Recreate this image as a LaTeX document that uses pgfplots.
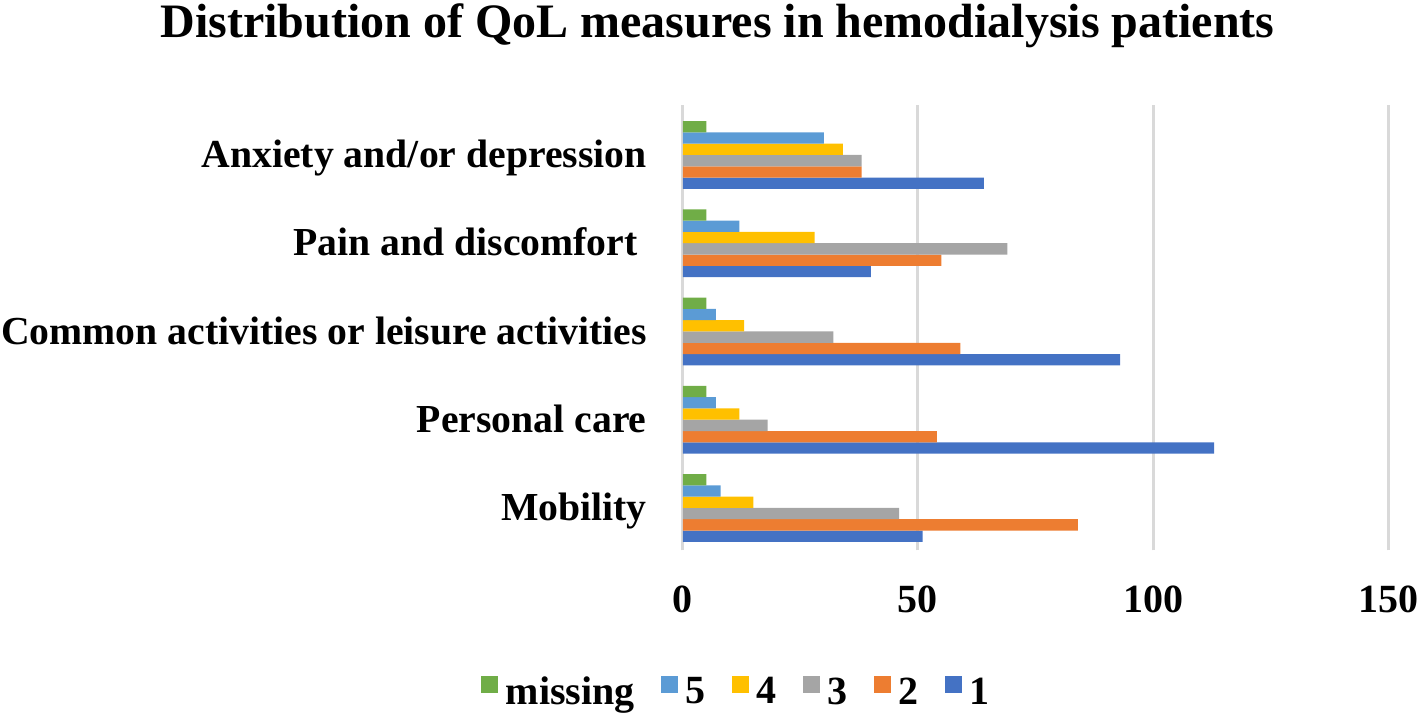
\documentclass[border=0pt]{standalone}
\usepackage{fontspec}
\setmainfont{Liberation Serif}
\usepackage{pgfplots}
\usepackage{pgfplotstable}
\pgfplotsset{compat=1.18}
\definecolor{cA}{HTML}{4472C4}
\definecolor{cB}{HTML}{ED7D31}
\definecolor{cC}{HTML}{A5A5A5}
\definecolor{cD}{HTML}{FFC000}
\definecolor{cE}{HTML}{5B9BD5}
\definecolor{cM}{HTML}{70AD47}
\definecolor{gridc}{HTML}{D9D9D9}
\pgfplotstableread{
y  s1  s2  s3  s4  s5  sm
0  51  84  46  15  8   5
1  113 54  18  12  7   5
2  93  59  32  13  7   5
3  40  55  69  28  12  5
4  64  38  38  34  30  5
}\qoldata
\begin{document}
\begin{tikzpicture}
\useasboundingbox (-341.5pt,-83.35pt) rectangle (367pt,275.15pt);
\begin{axis}[
  at={(0,0)}, anchor=south west,
  scale only axis,
  width=352.5pt, height=222.8pt,
  xmin=0, xmax=150, ymin=-0.48, ymax=4.57,
  xbar, bar width=0.128,
  xtick={0,50,100,150},
  ytick={0,1,2,3,4},
  yticklabels={Mobility,Personal care,Common activities or leisure activities,Pain and discomfort\rule{4.5pt}{0pt},Anxiety and/or depression},
  axis line style={draw=none},
  major tick length=0pt,
  xmajorgrids, grid style={color=gridc, line width=1.5pt},
  /pgf/number format/assume math mode=true,
  xticklabel style={font=\bfseries\fontsize{20}{24}\selectfont, anchor=base, inner sep=0pt, yshift=-31pt},
  yticklabel style={font=\bfseries\fontsize{19.85}{24}\selectfont, anchor=mid east, inner sep=0pt, xshift=-18pt, yshift=-4pt},
  title={Distribution of QoL measures in hemodialysis patients},
  every axis title shift=0pt,
  title style={font=\bfseries\fontsize{24}{28}\selectfont, at={(0.049,1.15)}, anchor=base, inner sep=0pt},
  legend columns=-1,
  reverse legend,
  legend style={draw=none, at={(0.074,-0.318)}, anchor=center, font=\bfseries\fontsize{20}{24}\selectfont,
    inner sep=0pt, nodes={inner sep=0pt},
    /tikz/every odd column/.append style={column sep=4pt},
    /tikz/every even column/.append style={column sep=13pt}},
  legend image code/.code={\fill[#1] (0pt,-0.5pt) rectangle (8.5pt,8pt);},
]
\addplot[fill=cA, draw=none, bar shift=-0.32] table[x=s1,y=y]{\qoldata};
\addlegendentry{1}
\addplot[fill=cB, draw=none, bar shift=-0.192] table[x=s2,y=y]{\qoldata};
\addlegendentry{2}
\addplot[fill=cC, draw=none, bar shift=-0.064] table[x=s3,y=y]{\qoldata};
\addlegendentry{3}
\addplot[fill=cD, draw=none, bar shift=0.064] table[x=s4,y=y]{\qoldata};
\addlegendentry{4}
\addplot[fill=cE, draw=none, bar shift=0.192] table[x=s5,y=y]{\qoldata};
\addlegendentry{5}
\addplot[fill=cM, draw=none, bar shift=0.32] table[x=sm,y=y]{\qoldata};
\addlegendentry{missing}
\end{axis}
\end{tikzpicture}
\end{document}
